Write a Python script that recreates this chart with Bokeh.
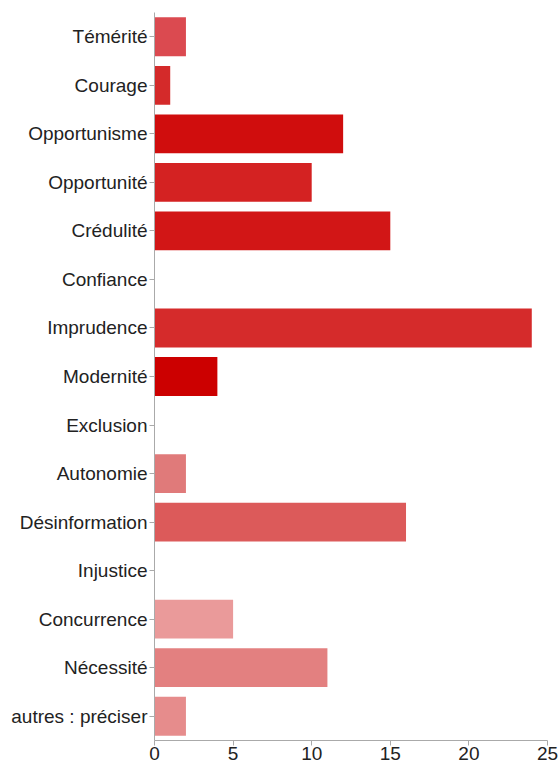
from bokeh.plotting import figure
from bokeh.models import ColumnDataSource, FactorRange, Range1d, FixedTicker
from bokeh.embed import file_html
from bokeh.resources import INLINE

categories = ["Témérité", "Courage", "Opportunisme", "Opportunité", "Crédulité",
              "Confiance", "Imprudence", "Modernité", "Exclusion", "Autonomie",
              "Désinformation", "Injustice", "Concurrence", "Nécessité",
              "autres : préciser"]
counts = [2, 1, 12, 10, 15, 0, 24, 4, 0, 2, 16, 0, 5, 11, 2]
x_ticks = [0, 5, 10, 15, 20, 25]

bar_colors = ["#db4a50", "#d42a2a", "#d00d0d", "#d42222", "#d21616",
              "#d42a2a", "#d52b2b", "#cc0000", "#cc0000", "#e07a7a",
              "#dc5a5a", "#dc5a5a", "#ea9a9a", "#e38080", "#e68c8c"]

source = ColumnDataSource(dict(cat=categories, val=counts, color=bar_colors))

FONT = "Liberation Sans"

p = figure(width=559, height=762, output_backend="svg", toolbar_location=None,
           y_range=FactorRange(*reversed(categories), range_padding=0),
           x_range=Range1d(0, 25),
           min_border_left=154, min_border_right=12, min_border_top=12,
           min_border_bottom=0)

p.hbar(y="cat", right="val", left=0, height=0.8, color="color",
       line_color=None, source=source)

p.outline_line_color = None
p.xgrid.grid_line_color = None
p.ygrid.grid_line_color = None
p.background_fill_color = "white"
p.border_fill_color = "white"

for ax in (p.xaxis[0], p.yaxis[0]):
    ax.axis_line_color = "#aaaaaa"
    ax.major_tick_line_color = "#aaaaaa"
    ax.minor_tick_line_color = None
    ax.major_tick_in = 0
    ax.major_tick_out = 5
    ax.major_label_text_font = FONT
    ax.major_label_text_font_size = "19px"
    ax.major_label_text_color = "#222222"

p.xaxis[0].ticker = FixedTicker(ticks=x_ticks)
p.xaxis[0].major_label_standoff = 1
p.yaxis[0].major_label_standoff = 2

open("out.html", "w").write(file_html(p, INLINE))
